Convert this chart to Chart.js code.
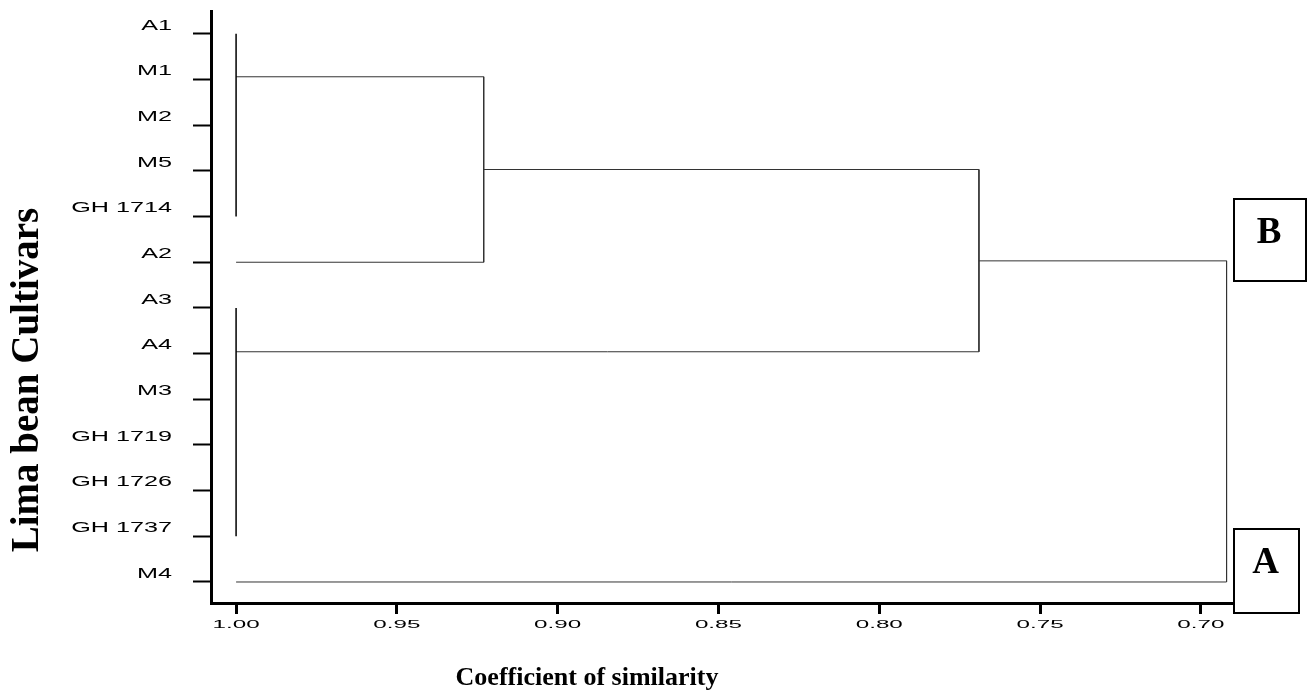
<!DOCTYPE html>
<html>
<head>
<meta charset="utf-8">
<title>Lima bean cultivars dendrogram</title>
<script src="https://cdn.jsdelivr.net/npm/chart.js@4.4.1/dist/chart.umd.min.js"></script>
<style>
  html, body { margin: 0; padding: 0; background: #fff; }
  canvas { display: block; }
</style>
</head>
<body>
<canvas id="dendro" width="1311" height="691"></canvas>
<script>
// Cultivars, top to bottom
const cultivars = ['A1', 'M1', 'M2', 'M5', 'GH 1714', 'A2', 'A3', 'A4', 'M3', 'GH 1719', 'GH 1726', 'GH 1737', 'M4'];

// Similarity ticks along the bottom
const similarityTicks = [1.00, 0.95, 0.90, 0.85, 0.80, 0.75, 0.70];

// One entry per join: the similarity where two branches meet,
// the row each branch sits on and the similarity it comes in from
const joinLevel = [1.00, 0.923, 1.00, 0.769, 0.692];
const upperRow  = [0,    0.94,  6,    2.97,  4.97];
const lowerRow  = [4,    5,     11,   6.96,  12];
const upperFrom = [1.00, 1.00,  1.00, 0.923, 0.769];
const lowerFrom = [1.00, 1.00,  1.00, 1.00,  1.00];

// Cluster tags boxed on the right
const clusterTags = ['B', 'A'];

const SANS = '"Liberation Sans", Arial, sans-serif';
const SERIF = '"Liberation Serif", "Times New Roman", serif';

const datasets = joinLevel.map((lvl, i) => ({
  data: [
    { x: upperFrom[i], y: upperRow[i] },
    { x: lvl, y: upperRow[i] },
    { x: lvl, y: lowerRow[i] },
    { x: lowerFrom[i], y: lowerRow[i] }
  ],
  showLine: true,
  borderColor: lvl === 1 ? '#000' : '#333',
  borderWidth: lvl === 1 ? 1.5 : 1,
  pointRadius: 0,
  tension: 0
}));

// tick labels are drawn wide, so they are painted here instead of by the scales
const textLayer = {
  id: 'textLayer',
  afterDraw(chart) {
    const ctx = chart.ctx;
    const xs = chart.scales.x;
    const ys = chart.scales.y;
    ctx.save();
    ctx.fillStyle = '#000';

    ctx.font = '14px ' + SANS;
    ctx.textAlign = 'right';
    ctx.textBaseline = 'middle';
    cultivars.forEach((name, i) => {
      ctx.save();
      ctx.translate(172, ys.getPixelForValue(i) - 8);
      ctx.scale(1.8, 1);
      ctx.fillText(name, 0, 0);
      ctx.restore();
    });

    ctx.font = '11px ' + SANS;
    ctx.textAlign = 'center';
    similarityTicks.forEach(v => {
      ctx.save();
      ctx.translate(xs.getPixelForValue(v), 625);
      ctx.scale(2.2, 1);
      ctx.fillText(v.toFixed(2), 0, 0);
      ctx.restore();
    });

    // axis titles
    ctx.font = 'bold 26px ' + SERIF;
    ctx.fillText('Coefficient of similarity', 587, 678);

    ctx.save();
    ctx.translate(28, 380);
    ctx.rotate(-Math.PI / 2);
    ctx.font = 'bold 39px ' + SERIF;
    ctx.fillText('Lima bean Cultivars', 0, 0);
    ctx.restore();

    // boxed cluster tags
    const boxes = [[1234, 199, 72, 82], [1234, 529, 65, 84]];
    ctx.lineWidth = 2;
    ctx.strokeStyle = '#000';
    ctx.font = 'bold 37px ' + SERIF;
    ctx.textBaseline = 'alphabetic';
    clusterTags.forEach((tag, i) => {
      const [bx, by, bw, bh] = boxes[i];
      ctx.strokeRect(bx, by, bw, bh);
      ctx.fillText(tag, bx + bw / 2 - 1, by + (i === 0 ? 44 : 44));
    });
    ctx.restore();
  }
};

new Chart(document.getElementById('dendro'), {
  type: 'scatter',
  data: { datasets },
  options: {
    responsive: false,
    animation: false,
    layout: { padding: { top: 11, right: 78, left: 0, bottom: 0 } },
    plugins: { legend: { display: false }, tooltip: { enabled: false } },
    scales: {
      x: {
        type: 'linear',
        reverse: true,
        min: 0.690,
        max: 1.0078,
        afterBuildTicks: s => { s.ticks = similarityTicks.map(v => ({ value: v })); },
        afterFit: s => { s.height = 88; },
        ticks: { display: false },
        border: { color: '#000', width: 3 },
        grid: { drawOnChartArea: false, color: '#000', tickLength: 11, tickWidth: 3 }
      },
      y: {
        type: 'linear',
        reverse: true,
        min: -0.5,
        max: 12.46,
        afterBuildTicks: s => { s.ticks = cultivars.map((_, i) => ({ value: i })); },
        afterFit: s => { s.width = 211; },
        ticks: { display: false },
        border: { color: '#000', width: 3 },
        grid: { drawOnChartArea: false, color: '#000', tickLength: 18, tickWidth: 2 }
      }
    }
  },
  plugins: [textLayer]
});
</script>
</body>
</html>
